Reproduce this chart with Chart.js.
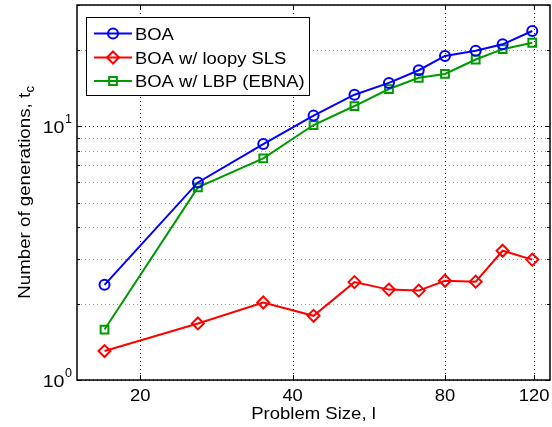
<!DOCTYPE html>
<html>
<head>
<meta charset="utf-8">
<script src="https://cdn.jsdelivr.net/npm/chart.js@4.4.1/dist/chart.umd.min.js"></script>
<style>
  html, body { margin: 0; padding: 0; background: #fff; }
</style>
</head>
<body>
<canvas id="chart-generaciones" width="552" height="427"></canvas>
<script>
// Datos (escala log-log)
const problemSizes = [17, 26, 35, 44, 53, 62, 71, 80, 92, 104, 119];
const boaGens = [2.37, 6.0, 8.5, 11.0, 13.3, 14.8, 16.6, 18.9, 19.8, 21.0, 23.7];
const loopySlsGens = [1.30, 1.67, 2.02, 1.79, 2.43, 2.27, 2.25, 2.46, 2.44, 3.23, 2.98];
const lbpGens = [1.58, 5.74, 7.46, 10.1, 12.0, 14.0, 15.5, 16.05, 18.3, 20.1, 21.3];

const seriesLabels = ['BOA', 'BOA w/ loopy SLS', 'BOA w/ LBP (EBNA)'];
const xTicks = [20, 40, 80, 120];
const yMajorTicks = [1, 10];
const yMinorTicks = [2, 3, 4, 5, 6, 7, 8, 9, 20, 30];

const FONT = '"Liberation Sans", Arial, Helvetica, sans-serif';

function toPoints(values) {
    return problemSizes.map((x, i) => ({ x: x, y: values[i] }));
}

// texto con un poco de estiramiento horizontal (la figura original esta algo ensanchada)
function drawText(ctx, text, x, y, size, align, sx) {
    ctx.save();
    ctx.font = size + 'px ' + FONT;
    ctx.textBaseline = 'alphabetic';
    const w = ctx.measureText(text).width * sx;
    let x0 = x;
    if (align === 'center') x0 = x - w / 2;
    if (align === 'right') x0 = x - w;
    ctx.translate(x0, y);
    ctx.scale(sx, 1);
    ctx.fillText(text, 0, 0);
    ctx.restore();
    return w;
}

function textWidth(ctx, text, size, sx) {
    ctx.save();
    ctx.font = size + 'px ' + FONT;
    const w = ctx.measureText(text).width * sx;
    ctx.restore();
    return w;
}

function drawMarker(ctx, style, x, y, r) {
    ctx.beginPath();
    if (style === 'circle') {
        ctx.arc(x, y, r, 0, Math.PI * 2);
    } else if (style === 'rectRot') {
        ctx.moveTo(x, y - r);
        ctx.lineTo(x + r, y);
        ctx.lineTo(x, y + r);
        ctx.lineTo(x - r, y);
        ctx.closePath();
    } else {
        const s = r * Math.SQRT1_2;
        ctx.rect(x - s, y - s, 2 * s, 2 * s);
    }
    ctx.stroke();
}

const matlabAxes = {
    id: 'matlabAxes',
    beforeDatasetsDraw(chart) {
        const { ctx, chartArea: a, scales: { x, y } } = chart;
        ctx.save();
        ctx.lineWidth = 1;
        ctx.setLineDash([1, 3]);

        // grilla menor
        ctx.strokeStyle = '#9a9a9a';
        yMinorTicks.forEach(v => {
            const py = Math.round(y.getPixelForValue(v)) + 0.5;
            ctx.beginPath();
            ctx.moveTo(a.left, py);
            ctx.lineTo(a.right, py);
            ctx.stroke();
        });

        // grilla mayor
        ctx.strokeStyle = '#000';
        yMajorTicks.forEach(v => {
            const py = Math.round(y.getPixelForValue(v)) + 0.5;
            ctx.beginPath();
            ctx.moveTo(a.left, py);
            ctx.lineTo(a.right, py);
            ctx.stroke();
        });
        xTicks.forEach(v => {
            const px = Math.round(x.getPixelForValue(v)) + 0.5;
            ctx.beginPath();
            ctx.moveTo(px, a.top);
            ctx.lineTo(px, a.bottom);
            ctx.stroke();
        });
        ctx.restore();
    },
    afterDatasetsDraw(chart) {
        const { ctx, chartArea: a, scales: { x, y } } = chart;
        ctx.save();
        ctx.fillStyle = '#000';
        ctx.strokeStyle = '#000';

        // caja
        ctx.lineWidth = 1.5;
        ctx.strokeRect(a.left, a.top, a.right - a.left, a.bottom - a.top);

        // marcas
        ctx.lineWidth = 1;
        const tick = (x1, y1, x2, y2) => {
            ctx.beginPath();
            ctx.moveTo(x1, y1);
            ctx.lineTo(x2, y2);
            ctx.stroke();
        };
        yMajorTicks.concat(yMinorTicks).forEach(v => {
            const py = Math.round(y.getPixelForValue(v)) + 0.5;
            const len = yMajorTicks.includes(v) ? 5 : 3;
            tick(a.left, py, a.left + len, py);
            tick(a.right, py, a.right - len, py);
        });
        xTicks.forEach(v => {
            const px = Math.round(x.getPixelForValue(v)) + 0.5;
            tick(px, a.bottom, px, a.bottom - 5);
            tick(px, a.top, px, a.top + 5);
        });

        // etiquetas eje x
        xTicks.forEach(v => {
            drawText(ctx, String(v), x.getPixelForValue(v), a.bottom + 21, 17, 'center', 1.08);
        });

        // etiquetas eje y (10^n)
        yMajorTicks.forEach(v => {
            const py = y.getPixelForValue(v);
            const exp = String(Math.round(Math.log10(v)));
            const expW = textWidth(ctx, exp, 12, 1.05);
            drawText(ctx, exp, a.left - 5, py - 3, 12, 'right', 1.05);
            drawText(ctx, '10', a.left - 5 - expW - 0.5, py + 7, 17, 'right', 1.15);
        });

        // titulo eje x
        drawText(ctx, 'Problem Size, l', (a.left + a.right) / 2, 419, 17, 'center', 1.09);

        // titulo eje y con subindice
        ctx.save();
        ctx.translate(30, (a.top + a.bottom) / 2);
        ctx.rotate(-Math.PI / 2);
        const main = 'Number of generations, t';
        const mw = textWidth(ctx, main, 17, 1.1);
        const sw = textWidth(ctx, 'c', 12, 1.1);
        const start = -(mw + sw) / 2;
        drawText(ctx, main, start, 0, 17, 'left', 1.1);
        drawText(ctx, 'c', start + mw + 0.5, 4, 12, 'left', 1.1);
        ctx.restore();

        // leyenda
        const lx = 86, ly = 17, lw = 223, lh = 78;
        ctx.fillStyle = '#fff';
        ctx.fillRect(lx, ly, lw, lh);
        ctx.lineWidth = 1;
        ctx.strokeStyle = '#000';
        ctx.strokeRect(lx + 0.5, ly + 0.5, lw, lh);
        const rowY = [33.5, 57.5, 81];
        chart.data.datasets.forEach((ds, i) => {
            const ry = rowY[i];
            ctx.strokeStyle = ds.borderColor;
            ctx.lineWidth = ds.borderWidth;
            ctx.beginPath();
            ctx.moveTo(94, ry);
            ctx.lineTo(132, ry);
            ctx.stroke();
            ctx.lineWidth = ds.pointBorderWidth;
            drawMarker(ctx, ds.pointStyle, 113, ry, ds.pointRadius);
            ctx.fillStyle = '#000';
            drawText(ctx, ds.label, 135, ry + 6, 16, 'left', 1.15);
        });
        ctx.restore();
    }
};

const commonDs = {
    borderWidth: 2,
    pointBorderWidth: 2,
    pointBackgroundColor: 'rgba(0,0,0,0)',
    tension: 0,
    fill: false
};

new Chart(document.getElementById('chart-generaciones'), {
    type: 'line',
    data: {
        datasets: [
            Object.assign({}, commonDs, {
                label: seriesLabels[0],
                data: toPoints(boaGens),
                borderColor: '#0000ff',
                pointBorderColor: '#0000ff',
                pointStyle: 'circle',
                pointRadius: 5
            }),
            Object.assign({}, commonDs, {
                label: seriesLabels[1],
                data: toPoints(loopySlsGens),
                borderColor: '#ff0000',
                pointBorderColor: '#ff0000',
                pointStyle: 'rectRot',
                pointRadius: 6
            }),
            Object.assign({}, commonDs, {
                label: seriesLabels[2],
                data: toPoints(lbpGens),
                borderColor: '#009a00',
                pointBorderColor: '#009a00',
                pointStyle: 'rect',
                pointRadius: 5.5
            })
        ]
    },
    options: {
        responsive: false,
        animation: false,
        devicePixelRatio: 1,
        layout: { autoPadding: false, padding: { left: 77, right: 2, top: 5, bottom: 47 } },
        scales: {
            x: { type: 'logarithmic', min: 15, max: 129, display: false },
            y: { type: 'logarithmic', min: 1, max: 30, display: false }
        },
        plugins: {
            legend: { display: false },
            tooltip: { enabled: false }
        }
    },
    plugins: [matlabAxes]
});
</script>
</body>
</html>
